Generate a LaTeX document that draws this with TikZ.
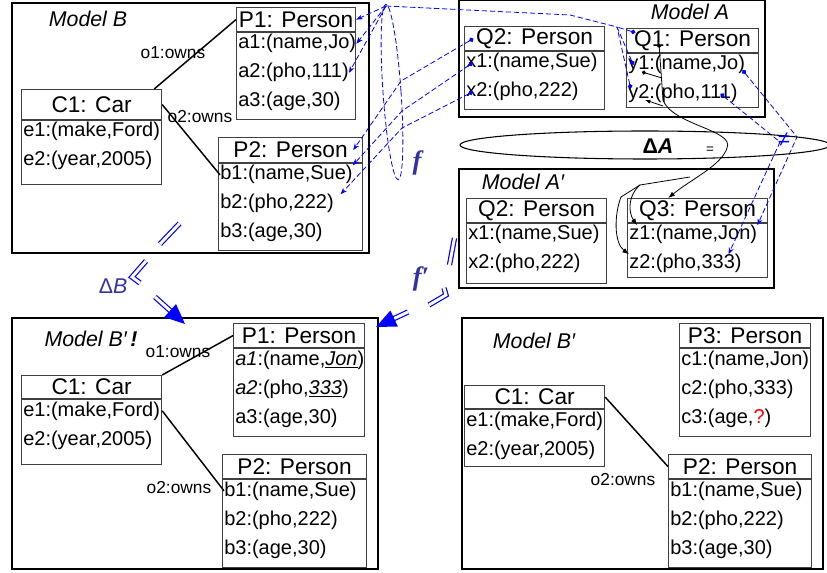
\documentclass[tikz,border=0pt]{standalone}
\usepackage{fontspec}
\setmainfont{Liberation Sans}
\newfontfamily\fserif{Liberation Serif}
\usetikzlibrary{arrows.meta,positioning}
\definecolor{lblue}{RGB}{50,50,160}

\begin{document}
\begin{tikzpicture}[x=0.75pt,y=-0.75pt,
  frm/.style={draw,line width=1.5pt,inner sep=0pt,anchor=north west},
  hd/.style={draw=black!75,line width=0.9pt,inner sep=0pt,anchor=north west,font=\fontsize{17}{20}\selectfont},
  bd/.style={draw=black!75,line width=0.9pt,inner sep=0pt,anchor=north west},
  att/.style={inner sep=0pt,anchor=base west,font=\fontsize{15}{18}\selectfont},
  mdl/.style={inner sep=0pt,font=\fontsize{16}{19}\selectfont\itshape},
  rl/.style={inner sep=0pt,font=\fontsize{13}{15}\selectfont},
  own/.style={line width=1.1pt},
  kd/.style={line width=0.6pt},
  mp/.style={blue,line width=0.6pt,dash pattern=on 4pt off 2pt},
  dl/.style={blue,line width=0.9pt,double=white,double distance=2.2pt},
  gl/.style={inner sep=0pt,text=lblue,font=\fserif\fontsize{20}{22}\selectfont\bfseries\itshape}]
  \useasboundingbox (0,0) rectangle (827,573);

  \node[frm,minimum width=267.75pt,minimum height=187.5pt] (mB) at (11,2) {};
  \node[frm,minimum width=229.5pt,minimum height=87.75pt] (mA) at (458,-1) {};
  \node[frm,minimum width=236.25pt,minimum height=89.25pt] (mA2) at (458,168) {};
  \node[frm,minimum width=274.5pt,minimum height=188.25pt] (mB2) at (11,317) {};
  \node[frm,minimum width=270.75pt,minimum height=188.25pt] (mB3) at (461,317) {};
  \node[mdl] (lB) at (88,19) {Model B};
  \node[mdl] (lA) at (690,12) {Model A};
  \node[mdl] (lA2) at (523,182) {Model A′};
  \node[mdl] (lB2) at (91,339) {Model B′\,{\bfseries !}};
  \node[mdl] (lB3) at (534,341) {Model B′};

  \node[hd,minimum width=89.25pt,minimum height=18pt] (bp1) at (236,7) {P1: Person};
  \node[bd,minimum width=89.25pt,minimum height=65.25pt] (bp1b) at (bp1.south west) {};
  \foreach \lbl [count=\i] in {{a1:(name,Jo)},{a2:(pho,111)},{a3:(age,30)}}
    \node[att] (bp1-\i) at (238,{20+29*\i}) {\lbl};
  \node[hd,minimum width=105pt,minimum height=22.5pt] (bc1) at (21,89) {C1: Car};
  \node[bd,minimum width=105pt,minimum height=48pt] (bc1b) at (bc1.south west) {};
  \foreach \lbl [count=\i] in {{e1:(make,Ford)},{e2:(year,2005)}}
    \node[att] (bc1-\i) at (23,{108+29*\i}) {\lbl};
  \node[hd,minimum width=108pt,minimum height=18.75pt] (bp2) at (218,137) {P2: Person};
  \node[bd,minimum width=108pt,minimum height=65.25pt] (bp2b) at (bp2.south west) {};
  \foreach \lbl [count=\i] in {{b1:(name,Sue)},{b2:(pho,222)},{b3:(age,30)}}
    \node[att] (bp2-\i) at (220,{151+29*\i}) {\lbl};
  \draw[own] ([xshift=-6pt]bc1.north east) -- (bp1.west);
  \draw[own] (bc1.east) -- (bp2-1.west);
  \node[rl] (o1b) at (173,53) {o1:owns};
  \node[rl] (o2b) at (200,117) {o2:owns};

  \node[hd,minimum width=105pt,minimum height=18pt] (aq2) at (464,26) {Q2: Person};
  \node[bd,minimum width=105pt,minimum height=43.5pt] (aq2b) at (aq2.south west) {};
  \foreach \lbl [count=\i] in {{x1:(name,Sue)},{x2:(pho,222)}}
    \node[att] (aq2-\i) at (466,{39+29*\i}) {\lbl};
  \node[hd,minimum width=99pt,minimum height=18pt] (aq1) at (626,28) {Q1: Person};
  \node[bd,minimum width=99pt,minimum height=40.5pt] (aq1b) at (aq1.south west) {};
  \foreach \lbl [count=\i] in {{y1:(name,Jo)},{y2:(pho,111)}}
    \node[att] (aq1-\i) at (628,{41+29*\i}) {\lbl};

  \node[hd,minimum width=105pt,minimum height=18pt] (cq2) at (466,198) {Q2: Person};
  \node[bd,minimum width=105pt,minimum height=45pt] (cq2b) at (cq2.south west) {};
  \foreach \lbl [count=\i] in {{x1:(name,Sue)},{x2:(pho,222)}}
    \node[att] (cq2-\i) at (468,{211+29*\i}) {\lbl};
  \node[hd,minimum width=105pt,minimum height=18pt] (cq3) at (627,198) {Q3: Person};
  \node[bd,minimum width=105pt,minimum height=40.5pt] (cq3b) at (cq3.south west) {};
  \foreach \lbl [count=\i] in {{z1:(name,Jon)},{z2:(pho,333)}}
    \node[att] (cq3-\i) at (629,{211+29*\i}) {\lbl};

  \node[hd,minimum width=98.25pt,minimum height=18pt] (dp1) at (233,323) {P1: Person};
  \node[bd,minimum width=98.25pt,minimum height=66pt] (dp1b) at (dp1.south west) {};
  \foreach \lbl [count=\i] in {{\textit{a1}:(name,\underline{\textit{Jon}})},{\textit{a2}:(pho,\underline{\textit{333}})},{a3:(age,30)}}
    \node[att] (dp1-\i) at (235,{336+29*\i}) {\lbl};
  \node[hd,minimum width=105pt,minimum height=17.25pt] (dc1) at (21,375) {C1: Car};
  \node[bd,minimum width=105pt,minimum height=48.75pt] (dc1b) at (dc1.south west) {};
  \foreach \lbl [count=\i] in {{e1:(make,Ford)},{e2:(year,2005)}}
    \node[att] (dc1-\i) at (23,{387+29*\i}) {\lbl};
  \node[hd,minimum width=108pt,minimum height=18pt] (dp2) at (222,454) {P2: Person};
  \node[bd,minimum width=108pt,minimum height=66pt] (dp2b) at (dp2.south west) {};
  \foreach \lbl [count=\i] in {{b1:(name,Sue)},{b2:(pho,222)},{b3:(age,30)}}
    \node[att] (dp2-\i) at (224,{467+29*\i}) {\lbl};
  \draw[own] (dc1.north east) -- (dp1.west);
  \draw[own] (dc1b.east |- dc1-1.east) -- (dp2-1.west);
  \node[rl] (o1d) at (178,352) {o1:owns};
  \node[rl] (o2d) at (179,488) {o2:owns};

  \node[hd,minimum width=98.25pt,minimum height=18pt] (ep3) at (679,323) {P3: Person};
  \node[bd,minimum width=98.25pt,minimum height=66pt] (ep3b) at (ep3.south west) {};
  \foreach \lbl [count=\i] in {{c1:(name,Jon)},{c2:(pho,333)},{c3:(age,\textcolor{red}{?})}}
    \node[att] (ep3-\i) at (681,{336+29*\i}) {\lbl};
  \node[hd,minimum width=105pt,minimum height=17.25pt] (ec1) at (464,385) {C1: Car};
  \node[bd,minimum width=105pt,minimum height=42.75pt] (ec1b) at (ec1.south west) {};
  \foreach \lbl [count=\i] in {{e1:(make,Ford)},{e2:(year,2005)}}
    \node[att] (ec1-\i) at (466,{397+29*\i}) {\lbl};
  \node[hd,minimum width=107.25pt,minimum height=18pt] (ep2) at (668,454) {P2: Person};
  \node[bd,minimum width=107.25pt,minimum height=66pt] (ep2b) at (ep2.south west) {};
  \foreach \lbl [count=\i] in {{b1:(name,Sue)},{b2:(pho,222)},{b3:(age,30)}}
    \node[att] (ep2-\i) at (670,{467+29*\i}) {\lbl};
  \draw[own] (ec1.east) -- (ep2.west);
  \node[rl] (o2e) at (623,480) {o2:owns};

  \coordinate (fj) at (386,6);
  \coordinate (fa) at (570,15);
  \coordinate (fb) at (617,27);
  \coordinate (g1) at (401,81);
  \coordinate (g2) at (402,111);
  \coordinate (g3) at (402,128);
  \coordinate (n1) at (797,137);
  \coordinate (n2) at (780,142);
  \draw[mp,rotate around={4:(392,92)}] (392,92) ellipse [x radius=9,y radius=88];
  \draw[mp,-{Stealth[length=5pt]}] (fj) -- (bp1.east);
  \draw[mp,-{Stealth[length=5pt]}] (fj) -- (bp1-1.east);
  \draw[mp,-{Stealth[length=5pt]}] (fj) -- (bp1-2.east);
  \draw[mp] (fj) -- (fa) -- (fb);
  \draw[mp,{Circle[length=3.5pt]}-] ([xshift=7pt,yshift=6pt]aq1.west) -- (fb);
  \draw[mp,{Circle[length=3.5pt]}-] ([xshift=4pt]aq1-1.west) -- (fb);
  \draw[mp,{Circle[length=3.5pt]}-] ([xshift=2pt,yshift=4pt]aq1-2.west) -- (fb);
  \draw[mp,{Circle[length=3.5pt]}-{Stealth[length=5pt]}] ([xshift=7pt]aq2.west) -- (g1) -- ([xshift=-7.5pt]bp2.east);
  \draw[mp,{Circle[length=3.5pt]}-{Stealth[length=5pt]}] ([xshift=5pt]aq2-1.west) -- (g2) -- (bp2-1.north east);
  \draw[mp,{Circle[length=3.5pt]}-{Stealth[length=5pt]}] ([xshift=5pt]aq2-2.west) -- (g3) -- ([xshift=5pt]bp2-2.north east);
  \draw[mp,{Circle[length=3.5pt]}-{Stealth[length=5pt]}] ([xshift=-2pt,yshift=-4pt]aq1-1.east) -- (n1) -- (cq3-1.north east);
  \draw[mp,{Circle[length=3.5pt]}-{Stealth[length=5pt]}] ([xshift=-13pt]aq1-2.east) -- (n2) -- ([xshift=-10pt]cq3-2.north east);
  \node[gl] (fl) at (417,163) {f};
  \node[gl] (fl2) at (421,279) {f′};

  \draw[line width=0.8pt] (645,145) ellipse [x radius=185,y radius=14];
  \node[inner sep=0pt,font=\bfseries\fontsize{16}{18}\selectfont] (dA) at (658,146) {Δ\textit{A}};
  \node[inner sep=0pt,font=\fontsize{10}{12}\selectfont] (eqs) at (710,150) {=};
  \node[inner sep=0pt,text=blue,font=\fontsize{16}{18}\selectfont] (neq) at (784,140) {≠};
  \coordinate (k0) at (659,44);
  \coordinate (k1) at (663,100);
  \coordinate (k2) at (727,148);
  \coordinate (k3) at (690,177);
  \coordinate (k4) at (640,185);
  \coordinate (k5) at (621,197);
  \coordinate (ky1) at (642,72);
  \coordinate (kj1) at (662,78);
  \coordinate (ky2) at (645,100);
  \coordinate (kj2) at (663,106);
  \draw[kd,{Circle[length=3pt]}-{Latex[length=5pt]}] (k0) -- (k1) .. controls (672,125) and (735,130) .. (k2) .. controls (722,165) and (690,180) .. ([xshift=-22pt]cq3.north);
  \draw[kd,{Circle[length=3pt]}-] (ky1) -- (kj1);
  \draw[kd,{Latex[length=4pt]}-] (ky2) -- (kj2);
  \draw[kd,-{Latex[length=5pt]}] (k3) -- (k4) .. controls (628,195) and (628,212) .. ([xshift=6pt]cq3-1.north west);
  \draw[kd,-{Latex[length=5pt]}] (k4) -- (k5) .. controls (614,215) and (614,243) .. (cq3-2.north west);

  \coordinate (b1) at (160,244);
  \coordinate (b2) at (179.5,223.5);
  \coordinate (b3) at (146,261);
  \coordinate (b4) at (132,277);
  \coordinate (b5) at (140,283);
  \coordinate (b6) at (155,297);
  \coordinate (b7) at (185,324);
  \draw[dl] (b1) -- (b2);
  \draw[dl] (b3) -- (b4) -- (b5);
  \draw[dl,-{Triangle[length=15pt,width=13pt]}] (b6) -- (b7);
  \node[inner sep=0pt,text=lblue,font=\fontsize{16}{18}\selectfont] (dB) at (113,286) {Δ\textit{B}};
  \coordinate (c1) at (449.5,265);
  \coordinate (c2) at (454.5,238);
  \coordinate (c3) at (429,305);
  \coordinate (c4) at (446,295);
  \coordinate (c5) at (444,288);
  \coordinate (c6) at (408,312);
  \coordinate (c7) at (376,327);
  \draw[dl] (c1) -- (c2);
  \draw[dl] (c3) -- (c4) -- (c5);
  \draw[dl,-{Triangle[length=15pt,width=13pt]}] (c6) -- (c7);
\end{tikzpicture}
\end{document}
